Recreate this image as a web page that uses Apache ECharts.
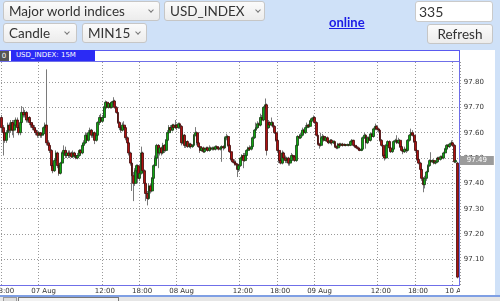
<!DOCTYPE html>
<html><head><meta charset="utf-8">
<script src="https://cdn.jsdelivr.net/npm/echarts@6.0.0/dist/echarts.min.js"></script>
<style>
html,body{margin:0;padding:0;background:#cfe1f8;width:500px;height:301px;overflow:hidden;}
.abs{position:absolute;box-sizing:border-box;}
.ctl{position:absolute;box-sizing:border-box;height:20px;border:1px solid #c6c6c6;border-radius:3px;background:linear-gradient(#fbfbfb,#ececec);font-family:Lato,'Open Sans',sans-serif;font-size:13.5px;color:#333;line-height:18px;padding-left:5px;white-space:nowrap;}
.arr{position:absolute;top:6px;width:3px;height:3px;border-right:1px solid #777;border-bottom:1px solid #777;transform:rotate(45deg);}
#panel{left:0;top:50px;width:495px;height:245px;background:#fff;}
#titlebar{left:-1px;top:50px;width:461px;height:12px;border:1px solid #5a5af0;background:#fff;}
#tab{left:11px;top:50px;width:84px;height:11px;background:#2b2bf5;color:#fff;font:7px 'DejaVu Sans';line-height:11px;padding-left:5px;}
#zero{left:-1px;top:51px;width:10px;height:10px;background:#555;color:#fff;font:7px 'DejaVu Sans';line-height:10px;text-align:center;}
#frame{left:-2px;top:61px;width:462px;height:225px;border:1px solid #6f6fe8;}
#bline{left:0;top:295px;width:500px;height:2px;background:#7f9fe4;}
#track{left:0;top:297px;width:500px;height:4px;background:#e6e6e6;}
#thumb{left:18px;top:297px;width:101px;height:6px;border:1px solid #777;background:#f2f2f2;}
#sbtn{left:3px;top:297px;width:14px;height:6px;border:1px solid #999;background:#ddd;}
#chart{position:absolute;left:0;top:0;width:500px;height:301px;}
#clipr{left:460px;top:287px;width:35px;height:8px;background:#fff;}
</style></head><body>
<div class="abs" id="panel"></div>
<div class="abs" id="titlebar"></div>
<div class="abs" id="tab">USD_INDEX: 15M</div>
<div class="abs" id="zero">0</div>
<div class="abs" id="frame"></div>
<div class="abs" id="bline"></div>
<div class="abs" id="track"></div>
<div class="abs" id="sbtn"></div>
<div class="abs" id="thumb"></div>
<div id="chart"></div>
<div class="abs" id="clipr"></div>
<div class="ctl" style="left:3px;top:1px;width:157px;">Major world indices<span class="arr" style="right:6px"></span></div>
<div class="ctl" style="left:164px;top:1px;width:101px;">USD_INDEX<span class="arr" style="right:4px"></span></div>
<div class="ctl" style="left:3px;top:23px;width:74px;">Candle<span class="arr" style="right:7px"></span></div>
<div class="ctl" style="left:82px;top:23px;width:65px;">MIN15<span class="arr" style="right:6px"></span></div>
<div class="abs" style="left:329px;top:14px;font:bold 13px Lato,sans-serif;color:#1a1ae6;text-decoration:underline;">online</div>
<div class="abs" style="left:415px;top:1px;width:78px;height:21px;background:#fff;border:1px solid #cacaca;border-radius:3px;font:14px Lato,sans-serif;color:#333;line-height:19px;padding-left:3px;">335</div>
<div class="ctl" style="left:427px;top:24px;width:66px;text-align:center;padding-left:0;">Refresh</div>
<script>
// ---- data ----
const months = ['Jan','Feb','Mar','Apr','May','Jun','Jul','Aug','Sep','Oct','Nov','Dec'];
const startTime = Date.UTC(2019, 7, 6, 18, 0);   // 06 Aug 18:00, 15-minute bars
const categoryCount = 296;
const skipFrom = 285, skipTo = 375;               // no quotes 04:45..06:15
const yTicks = [97.1, 97.2, 97.3, 97.4, 97.5, 97.6, 97.7, 97.8];
const lastPrice = 97.49;
const opens = [
97.66,97.62,97.60,97.57,97.60,97.63,97.61,97.64,97.61,97.63,
97.65,97.62,97.60,97.64,97.68,97.67,97.68,97.65,97.66,97.64,
97.63,97.62,97.61,97.60,97.59,97.60,97.59,97.595,97.62,97.63,
97.56,97.55,97.53,97.47,97.45,97.49,97.52,97.47,97.44,97.48,
97.52,97.53,97.51,97.52,97.51,97.52,97.505,97.52,97.51,97.50,
97.51,97.53,97.52,97.55,97.56,97.59,97.57,97.60,97.61,97.59,
97.60,97.57,97.59,97.64,97.66,97.645,97.66,97.70,97.72,97.70,
97.715,97.70,97.72,97.725,97.70,97.68,97.64,97.62,97.61,97.63,
97.62,97.58,97.56,97.52,97.48,97.43,97.40,97.45,97.47,97.42,
97.44,97.52,97.45,97.40,97.36,97.34,97.39,97.37,97.42,97.47,
97.50,97.55,97.52,97.54,97.52,97.55,97.53,97.57,97.60,97.62,
97.61,97.63,97.62,97.63,97.62,97.635,97.625,97.56,97.59,97.55,
97.565,97.545,97.555,97.545,97.55,97.59,97.60,97.56,97.545,97.53,
97.54,97.525,97.535,97.54,97.53,97.54,97.535,97.54,97.535,97.545,
97.54,97.535,97.54,97.545,97.54,97.58,97.585,97.55,97.525,97.495,
97.485,97.48,97.475,97.455,97.47,97.50,97.51,97.49,97.51,97.53,
97.54,97.535,97.545,97.58,97.61,97.62,97.635,97.63,97.66,97.65,
97.70,97.71,97.62,97.64,97.63,97.64,97.625,97.60,97.57,97.53,
97.49,97.48,97.52,97.50,97.49,97.50,97.48,97.49,97.51,97.505,
97.49,97.55,97.585,97.58,97.59,97.61,97.60,97.62,97.63,97.625,
97.645,97.655,97.66,97.64,97.59,97.555,97.55,97.58,97.585,97.57,
97.58,97.565,97.56,97.57,97.56,97.565,97.545,97.54,97.555,97.55,
97.555,97.55,97.553,97.55,97.553,97.55,97.565,97.57,97.55,97.545,
97.54,97.535,97.53,97.535,97.58,97.59,97.56,97.58,97.57,97.595,
97.585,97.615,97.625,97.615,97.61,97.57,97.55,97.51,97.50,97.55,
97.565,97.54,97.525,97.535,97.565,97.57,97.56,97.57,97.545,97.53,
97.525,97.535,97.53,97.57,97.59,97.60,97.59,97.565,97.53,97.495,
97.48,97.455,97.42,97.395,97.42,97.445,97.47,97.49,97.485,97.49,
97.48,97.485,97.50,97.495,97.505,97.50,97.52,97.535,97.55,97.545,
97.555,97.56,97.55,97.485,97.48];
const closes = [
97.62,97.60,97.57,97.60,97.63,97.61,97.64,97.61,97.63,97.65,
97.62,97.60,97.64,97.68,97.67,97.68,97.65,97.66,97.64,97.63,
97.62,97.61,97.60,97.59,97.60,97.59,97.595,97.62,97.63,97.56,
97.55,97.53,97.47,97.45,97.49,97.52,97.47,97.44,97.48,97.52,
97.53,97.51,97.52,97.51,97.52,97.505,97.52,97.51,97.50,97.51,
97.53,97.52,97.55,97.56,97.59,97.57,97.60,97.61,97.59,97.60,
97.57,97.59,97.64,97.66,97.645,97.66,97.70,97.72,97.70,97.715,
97.70,97.72,97.725,97.70,97.68,97.64,97.62,97.61,97.63,97.62,
97.58,97.56,97.52,97.48,97.43,97.40,97.45,97.47,97.42,97.44,
97.52,97.45,97.40,97.36,97.34,97.39,97.37,97.42,97.47,97.50,
97.55,97.52,97.54,97.52,97.55,97.53,97.57,97.60,97.62,97.61,
97.63,97.62,97.63,97.62,97.635,97.625,97.56,97.59,97.55,97.565,
97.545,97.555,97.545,97.55,97.59,97.60,97.56,97.545,97.53,97.54,
97.525,97.535,97.54,97.53,97.54,97.535,97.54,97.535,97.545,97.54,
97.535,97.54,97.545,97.54,97.58,97.585,97.55,97.525,97.495,97.485,
97.48,97.475,97.455,97.47,97.50,97.51,97.49,97.51,97.53,97.54,
97.535,97.545,97.58,97.61,97.62,97.635,97.63,97.66,97.65,97.70,
97.71,97.53,97.64,97.63,97.64,97.625,97.60,97.57,97.53,97.49,
97.48,97.52,97.50,97.49,97.50,97.48,97.49,97.51,97.505,97.49,
97.55,97.585,97.58,97.59,97.61,97.60,97.62,97.63,97.625,97.645,
97.655,97.66,97.64,97.59,97.555,97.55,97.58,97.585,97.57,97.58,
97.565,97.56,97.57,97.56,97.565,97.545,97.54,97.555,97.55,97.555,
97.55,97.553,97.55,97.553,97.55,97.565,97.57,97.55,97.545,97.54,
97.535,97.53,97.535,97.58,97.59,97.56,97.58,97.57,97.595,97.585,
97.615,97.625,97.615,97.61,97.57,97.55,97.51,97.50,97.55,97.565,
97.54,97.525,97.535,97.565,97.57,97.56,97.57,97.545,97.53,97.525,
97.535,97.53,97.57,97.59,97.60,97.59,97.565,97.53,97.495,97.48,
97.455,97.42,97.395,97.42,97.445,97.47,97.49,97.485,97.49,97.48,
97.485,97.50,97.495,97.505,97.50,97.52,97.535,97.55,97.545,97.555,
97.56,97.55,97.485,97.49,97.03];
const highs = [
97.67,97.63,97.61,97.61,97.64,97.64,97.65,97.65,97.65,97.66,
97.66,97.63,97.645,97.705,97.70,97.69,97.685,97.67,97.665,97.65,
97.64,97.63,97.62,97.61,97.605,97.60,97.60,97.625,97.64,97.85,
97.57,97.555,97.535,97.48,97.50,97.53,97.525,97.475,97.485,97.525,
97.55,97.545,97.53,97.53,97.53,97.525,97.53,97.525,97.52,97.52,
97.535,97.535,97.555,97.57,97.60,97.60,97.61,97.62,97.615,97.605,
97.605,97.60,97.645,97.67,97.675,97.67,97.705,97.727,97.725,97.72,
97.72,97.725,97.74,97.73,97.705,97.685,97.645,97.625,97.64,97.645,
97.625,97.585,97.565,97.525,97.485,97.445,97.46,97.475,97.475,97.45,
97.545,97.525,97.455,97.405,97.37,97.40,97.40,97.425,97.475,97.51,
97.556,97.555,97.55,97.545,97.56,97.555,97.575,97.61,97.63,97.63,
97.635,97.635,97.65,97.635,97.64,97.64,97.63,97.60,97.595,97.57,
97.57,97.56,97.56,97.555,97.595,97.622,97.605,97.565,97.55,97.545,
97.545,97.54,97.545,97.545,97.55,97.545,97.545,97.545,97.55,97.55,
97.545,97.545,97.55,97.55,97.585,97.596,97.59,97.555,97.53,97.50,
97.495,97.49,97.48,97.475,97.505,97.515,97.52,97.52,97.535,97.545,
97.55,97.55,97.585,97.615,97.64,97.645,97.64,97.675,97.67,97.705,
97.735,97.715,97.65,97.645,97.66,97.645,97.63,97.605,97.575,97.535,
97.50,97.53,97.525,97.51,97.505,97.505,97.495,97.52,97.515,97.51,
97.555,97.59,97.595,97.60,97.62,97.615,97.63,97.64,97.635,97.65,
97.66,97.668,97.665,97.645,97.595,97.56,97.60,97.595,97.59,97.585,
97.585,97.57,97.575,97.575,97.57,97.57,97.55,97.56,97.56,97.56,
97.56,97.558,97.556,97.557,97.556,97.57,97.575,97.572,97.555,97.55,
97.545,97.54,97.54,97.585,97.60,97.595,97.585,97.585,97.60,97.60,
97.62,97.636,97.63,97.62,97.612,97.575,97.555,97.515,97.555,97.57,
97.57,97.545,97.545,97.57,97.576,97.59,97.58,97.575,97.55,97.54,
97.545,97.54,97.575,97.595,97.616,97.61,97.60,97.57,97.535,97.50,
97.485,97.46,97.425,97.43,97.45,97.475,97.495,97.523,97.495,97.495,
97.49,97.505,97.505,97.51,97.51,97.525,97.54,97.555,97.555,97.56,
97.57,97.565,97.555,97.495,97.485];
const lows = [
97.60,97.51,97.56,97.56,97.59,97.58,97.60,97.59,97.58,97.62,
97.61,97.59,97.59,97.63,97.66,97.66,97.64,97.64,97.63,97.62,
97.61,97.60,97.59,97.58,97.585,97.58,97.58,97.59,97.61,97.55,
97.54,97.52,97.46,97.44,97.445,97.48,97.46,97.43,97.435,97.47,
97.51,97.50,97.50,97.50,97.50,97.50,97.50,97.50,97.495,97.495,
97.505,97.515,97.515,97.54,97.555,97.56,97.565,97.59,97.58,97.58,
97.555,97.565,97.585,97.63,97.64,97.64,97.655,97.69,97.695,97.695,
97.695,97.695,97.71,97.695,97.675,97.635,97.61,97.60,97.605,97.61,
97.57,97.555,97.51,97.47,97.37,97.33,97.39,97.44,97.40,97.41,
97.435,97.44,97.39,97.33,97.313,97.335,97.36,97.365,97.41,97.46,
97.49,97.46,97.51,97.51,97.515,97.52,97.525,97.565,97.595,97.60,
97.605,97.61,97.615,97.61,97.615,97.615,97.55,97.555,97.54,97.54,
97.54,97.54,97.537,97.54,97.545,97.585,97.55,97.54,97.52,97.525,
97.52,97.52,97.53,97.525,97.525,97.53,97.53,97.53,97.53,97.535,
97.53,97.53,97.485,97.53,97.535,97.57,97.545,97.52,97.49,97.48,
97.47,97.47,97.425,97.445,97.465,97.49,97.46,97.485,97.505,97.525,
97.53,97.53,97.54,97.575,97.60,97.615,97.62,97.625,97.645,97.645,
97.695,97.51,97.615,97.62,97.625,97.62,97.595,97.565,97.52,97.48,
97.475,97.475,97.49,97.48,97.48,97.47,97.47,97.485,97.495,97.485,
97.485,97.545,97.575,97.575,97.585,97.595,97.595,97.615,97.62,97.62,
97.64,97.65,97.635,97.585,97.55,97.537,97.545,97.57,97.565,97.565,
97.56,97.555,97.555,97.55,97.555,97.54,97.535,97.535,97.545,97.545,
97.545,97.547,97.546,97.547,97.546,97.547,97.56,97.545,97.54,97.535,
97.53,97.527,97.527,97.53,97.575,97.537,97.555,97.565,97.565,97.58,
97.58,97.61,97.61,97.60,97.565,97.545,97.505,97.49,97.495,97.545,
97.53,97.52,97.52,97.53,97.56,97.555,97.555,97.54,97.525,97.515,
97.52,97.52,97.525,97.565,97.585,97.585,97.56,97.525,97.49,97.475,
97.45,97.41,97.365,97.38,97.41,97.44,97.465,97.48,97.48,97.475,
97.475,97.48,97.49,97.49,97.495,97.495,97.515,97.53,97.54,97.54,
97.55,97.545,97.48,97.48,97.025];

// ---- categories (15-minute bar times) ----
const pad = n => (n < 10 ? '0' : '') + n;
const categories = [];
for (let t = startTime; categories.length < categoryCount; t += 900000) {
  const d = new Date(t);
  const m = d.getUTCHours() * 60 + d.getUTCMinutes();
  if (m >= skipFrom && m <= skipTo) continue;
  categories.push(pad(d.getUTCDate()) + ' ' + months[d.getUTCMonth()] + ' ' + pad(d.getUTCHours()) + ':' + pad(d.getUTCMinutes()));
}
const isMajor = v => { const t = v.slice(7); return t === '00:00' || t === '12:00' || t === '18:00'; };
const labelText = v => v.slice(7) === '00:00' ? v.slice(0, 6) : v.slice(7);

const wickData = opens.map((o, i) => [o, closes[i], lows[i], highs[i]]);
const bodyData = opens.map((o, i) => [o, closes[i], Math.min(o, closes[i]), Math.max(o, closes[i])]);

const chart = echarts.init(document.getElementById('chart'));
chart.setOption({
  animation: false,
  backgroundColor: 'transparent',
  grid: { left: 1, top: 62, right: 40.2, bottom: 15, show: false, containLabel: false, outerBoundsMode: 'none' },
  xAxis: {
    type: 'category', data: categories, boundaryGap: true,
    axisLine: { show: false }, axisTick: { show: false },
    axisLabel: {
      interval: (i, v) => isMajor(v), margin: 2, hideOverlap: false,
      formatter: v => '{t|' + labelText(v) + '}',
      rich: { t: { width: 15.5, align: 'left', fontFamily: 'DejaVu Sans', fontSize: 7, color: '#333' } }
    },
    splitLine: { show: true, interval: (i, v) => isMajor(v), lineStyle: { color: '#999', width: 1, type: [1, 2] } }
  },
  yAxis: {
    type: 'value', position: 'right', min: 96.995, max: 97.879,
    axisLine: { show: false }, axisTick: { show: false, customValues: yTicks },
    axisLabel: { customValues: yTicks, formatter: v => v.toFixed(2), fontFamily: 'DejaVu Sans', fontSize: 7, color: '#333', margin: 4 },
    splitLine: { show: true, lineStyle: { color: '#999', width: 1, type: [1, 2] } }
  },
  series: [
    {
      type: 'candlestick', data: wickData, barWidth: 1,
      itemStyle: { color: '#7a7a7a', color0: '#7a7a7a', borderColor: '#7a7a7a', borderColor0: '#7a7a7a', borderWidth: 1 }
    },
    {
      type: 'candlestick', data: bodyData, barWidth: 2.4,
      itemStyle: { color: '#10a810', color0: '#b01010', borderColor: '#153f15', borderColor0: '#3f0a0a', borderWidth: 0.8 },
      markLine: {
        silent: true, symbol: 'none', animation: false,
        lineStyle: { color: 'rgba(0,0,0,0)', width: 0 },
        data: [{ yAxis: lastPrice }],
        label: { show: true, position: 'end', distance: 0, formatter: lastPrice.toFixed(2), color: '#fff', backgroundColor: '#9b9b9b', padding: [1, 7, 1, 7], fontFamily: 'DejaVu Sans', fontSize: 7 }
      }
    }
  ]
});
</script>
</body></html>
